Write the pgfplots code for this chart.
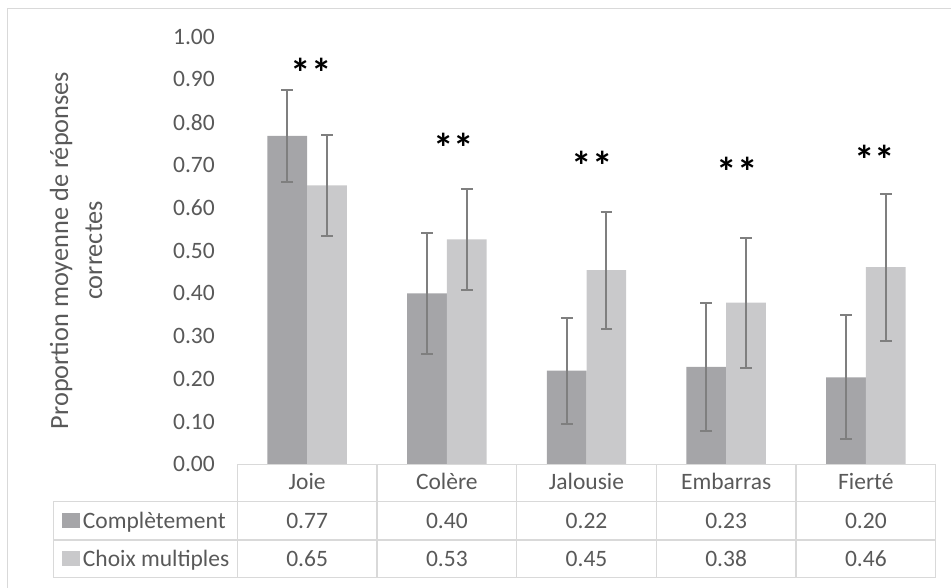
\documentclass[border=0pt]{standalone}
\usepackage{fontspec}
\setmainfont{Carlito}
\usepackage{pgfplots}
\pgfplotsset{compat=1.18}
\definecolor{darkbar}{HTML}{A5A5A8}
\definecolor{lightbar}{HTML}{C9C9CB}
\definecolor{errgray}{HTML}{7F7F7F}
\definecolor{txt}{HTML}{595959}
\definecolor{gridc}{HTML}{D9D9D9}
\newcommand{\tbl}{\fontsize{23.5bp}{28bp}\selectfont}
\newcommand{\ttl}{\fontsize{26.3bp}{34bp}\selectfont}
\newcommand{\stars}{\fontsize{41bp}{44bp}\selectfont\bfseries}
\begin{document}
\begin{tikzpicture}[x=1bp,y=1bp]
\useasboundingbox (0,0) rectangle (951,588);
\draw[gridc, line width=1.2bp] (7.8,0) -- (7.8,579.7) -- (951,579.7);
\begin{axis}[
  at={(237.3bp,123.7bp)}, anchor=south west,
  scale only axis, width=698.4bp, height=427.6bp,
  xmin=-0.5, xmax=4.5, ymin=0, ymax=1,
  axis line style={draw=none}, major tick length=0pt,
  ytick={0,0.1,0.2,0.3,0.4,0.5,0.6,0.7,0.8,0.9,1},
  yticklabel style={/pgf/number format/fixed, /pgf/number format/fixed zerofill, /pgf/number format/precision=2, /pgf/number format/assume math mode=true,
    font=\tbl, text=txt, inner sep=0pt, anchor=east, xshift=-22.3bp},
  xtick={0,1,2,3,4},
  xticklabels={Joie,Colère,Jalousie,Embarras,Fierté},
  xticklabel style={font=\tbl, text=txt, inner sep=0pt, anchor=base, yshift=-25.7bp},
  ylabel={Proportion moyenne de réponses\\correctes},
  ylabel style={align=center, font=\ttl, text=txt, at={(axis description cs:-0.231,0.5)}, anchor=center},
  ybar=0pt, bar width=39.7bp,
  clip=false,
  error bars/error bar style={line width=2bp, errgray},
  error bars/error mark options={rotate=90, line width=2bp, errgray, mark size=5.85bp},
]
\addplot[fill=darkbar, draw=none, error bars/.cd, y dir=both, y explicit]
  table[x=x, y=y, y error=e] {
x y e
0 0.768 0.108
1 0.400 0.142
2 0.219 0.124
3 0.228 0.150
4 0.203 0.145
};
\addplot[fill=lightbar, draw=none, error bars/.cd, y dir=both, y explicit]
  table[x=x, y=y, y error=e] {
x y e
0 0.652 0.119
1 0.526 0.118
2 0.454 0.137
3 0.378 0.152
4 0.461 0.172
};
\node[font=\stars, inner sep=0pt, anchor=center] at (axis cs:0.03,0.915) {**};
\node[font=\stars, inner sep=0pt, anchor=center] at (axis cs:1.05,0.740) {**};
\node[font=\stars, inner sep=0pt, anchor=center] at (axis cs:2.04,0.698) {**};
\node[font=\stars, inner sep=0pt, anchor=center] at (axis cs:3.08,0.684) {**};
\node[font=\stars, inner sep=0pt, anchor=center] at (axis cs:4.065,0.711) {**};
\end{axis}
% data table
\begin{scope}[gridc, line width=1.3bp]
\draw (237.3,123.7) -- (935.7,123.7);
\draw (53.3,86.3) -- (935.7,86.3);
\draw (53.3,48) -- (935.7,48);
\draw (53.3,10.7) -- (935.7,10.7);
\draw (53.3,86.3) -- (53.3,10.7);
\foreach \xx in {237.3,377,516.7,656.3,796,935.7} \draw (\xx,123.7) -- (\xx,10.7);
\end{scope}
\fill[darkbar] (61.7,60) rectangle (80,75);
\fill[lightbar] (61.7,21.6) rectangle (80,36.6);
\node[anchor=base west, inner sep=0pt, font=\tbl, text=txt] at (82.7,59.7) {Complètement};
\node[anchor=base west, inner sep=0pt, font=\tbl, text=txt] at (82.7,21.3) {Choix multiples};
\foreach \cx/\a/\b in {307.15/0.77/0.65, 446.85/0.40/0.53, 586.5/0.22/0.45, 726.15/0.23/0.38, 865.85/0.20/0.46} {
  \node[anchor=base, inner sep=0pt, font=\tbl, text=txt] at (\cx,59.7) {\a};
  \node[anchor=base, inner sep=0pt, font=\tbl, text=txt] at (\cx,21.3) {\b};
}
\end{tikzpicture}
\end{document}
